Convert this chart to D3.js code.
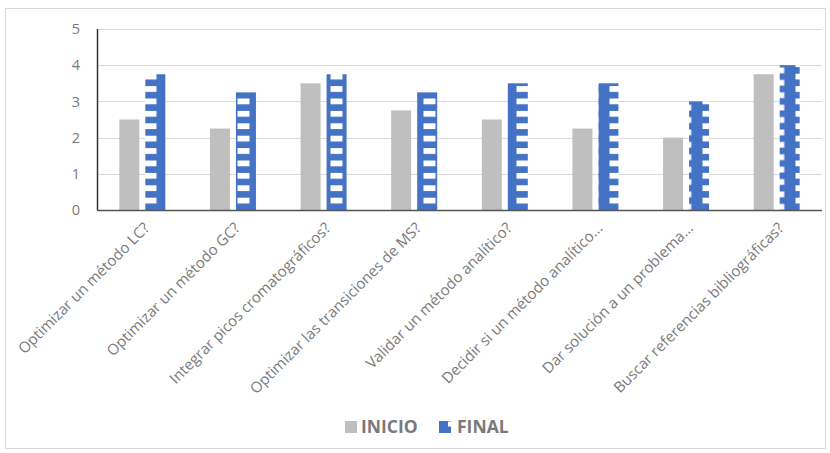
<!DOCTYPE html>
<html>
<head>
<meta charset="utf-8">
<script src="https://cdn.jsdelivr.net/npm/d3@7"></script>
<style>
  html, body { margin: 0; padding: 0; background: #fff; }
  svg { display: block; font-family: "Open Sans", sans-serif; }
</style>
</head>
<body>
<div id="chart"></div>
<script>
// Survey items (¿Sabes ...?) and mean self-assessment scores
const categories = [
  "Optimizar un método LC?",
  "Optimizar un método GC?",
  "Integrar picos cromatográficos?",
  "Optimizar las transiciones de MS?",
  "Validar un método analítico?",
  "Decidir si un método analítico...",
  "Dar solución a un problema...",
  "Buscar referencias bibliográficas?"
];
const seriesNames = ["INICIO", "FINAL"];
const inicio = [2.5, 2.25, 3.5, 2.75, 2.5, 2.25, 2.0, 3.75];
const final = [3.75, 3.25, 3.75, 3.25, 3.5, 3.5, 3.0, 4.0];
const yTicks = [0, 1, 2, 3, 4, 5];

const W = 830, H = 453;
const margin = { left: 97, top: 29, right: 8, bottom: 243 };
const plotW = 822 - margin.left;
const plotH = 210 - margin.top;

const svg = d3.select("#chart").append("svg")
  .attr("width", W).attr("height", H);

// chart frame
svg.append("rect")
  .attr("x", 5.5).attr("y", 8.5)
  .attr("width", 820).attr("height", 440)
  .attr("fill", "#fff").attr("stroke", "#d9d9d9").attr("stroke-width", 1);

const g = svg.append("g").attr("transform", `translate(${margin.left},${margin.top})`);

// Ladder-style pattern for the FINAL series
const defs = svg.append("defs");
const tileW = 46.5, tileH = 12.4;
const pat = defs.append("pattern")
  .attr("id", "ladder")
  .attr("patternUnits", "userSpaceOnUse")
  .attr("x", 47.5).attr("y", 69.5)
  .attr("width", tileW).attr("height", tileH);
pat.append("rect").attr("width", tileW).attr("height", tileH).attr("fill", "#4472c4");
pat.append("rect").attr("x", 0).attr("y", 0).attr("width", 12).attr("height", 5.8).attr("fill", "#fff");
pat.append("rect").attr("x", tileW / 2).attr("y", tileH / 2).attr("width", 12).attr("height", 5.8).attr("fill", "#fff");
pat.append("rect").attr("x", tileW / 2 - tileW).attr("y", tileH / 2).attr("width", 12).attr("height", 5.8).attr("fill", "#fff");

const x = d3.scaleBand().domain(categories).range([0, plotW]).padding(0);
const xSub = d3.scaleBand().domain(seriesNames).range([-23, 23]).paddingInner(2 - 46 / 26).paddingOuter(0);
const y = d3.scaleLinear().domain([0, 5]).range([plotH, 0]);

// gridlines
g.append("g").selectAll("line").data(yTicks.filter(d => d > 0)).join("line")
  .attr("x1", 0).attr("x2", plotW)
  .attr("y1", d => Math.round(y(d)) + 0.5).attr("y2", d => Math.round(y(d)) + 0.5)
  .attr("stroke", "#d9d9d9").attr("stroke-width", 1.2);

// y axis labels
const yAxis = d3.axisLeft(y).tickValues(yTicks).tickSize(0).tickPadding(17).tickFormat(d3.format("d"));
const ya = g.append("g").call(yAxis);
ya.select(".domain").remove();
ya.selectAll("text").attr("fill", "#7a7a7a").style("font-size", "14.5px").style("font-family", "'Open Sans', sans-serif");

// bars
const series = [
  { name: "INICIO", values: inicio, fill: "#bfbfbf" },
  { name: "FINAL", values: final, fill: "url(#ladder)" }
];
series.forEach(s => {
  g.append("g").selectAll("rect").data(categories).join("rect")
    .attr("x", (c) => x(c) + x.bandwidth() / 2 + xSub(s.name))
    .attr("y", (c, i) => y(s.values[i]))
    .attr("width", xSub.bandwidth())
    .attr("height", (c, i) => plotH - y(s.values[i]))
    .attr("fill", s.fill);
});

// axis lines
g.append("line").attr("x1", 0.5).attr("x2", 0.5).attr("y1", 0).attr("y2", plotH)
  .attr("stroke", "#333").attr("stroke-width", 1.5);
g.append("line").attr("x1", 0).attr("x2", plotW).attr("y1", plotH + 0.5).attr("y2", plotH + 0.5)
  .attr("stroke", "#555").attr("stroke-width", 1.5);

// x category labels, rotated
const xAxis = d3.axisBottom(x).tickSize(0).tickPadding(0);
const xa = g.append("g").attr("transform", `translate(0,${plotH})`).call(xAxis);
xa.select(".domain").remove();
xa.selectAll("text")
  .attr("fill", "#7a7a7a")
  .style("font-size", "15px")
  .style("font-family", "'Open Sans', sans-serif")
  .attr("text-anchor", "end")
  .attr("dy", "0")
  .attr("y", 0)
  .attr("transform", "translate(8,19) rotate(-45)");

// legend
const lg = svg.append("g").attr("transform", "translate(345,421)");
lg.append("rect").attr("x", 0).attr("y", 0).attr("width", 12).attr("height", 12).attr("fill", "#bfbfbf");
lg.append("text").attr("x", 16).attr("y", 6).attr("dy", "0.35em")
  .attr("fill", "#7a7a7a").style("font-size", "17.5px").style("font-weight", "bold").text(seriesNames[0]);
lg.append("rect").attr("x", 94).attr("y", 0).attr("width", 12).attr("height", 12).attr("fill", "#4472c4");
lg.append("rect").attr("x", 103).attr("y", 0.5).attr("width", 4).attr("height", 5).attr("fill", "#fff");
lg.append("text").attr("x", 112).attr("y", 6).attr("dy", "0.35em")
  .attr("fill", "#7a7a7a").style("font-size", "17.5px").style("font-weight", "bold").text(seriesNames[1]);
</script>
</body>
</html>
